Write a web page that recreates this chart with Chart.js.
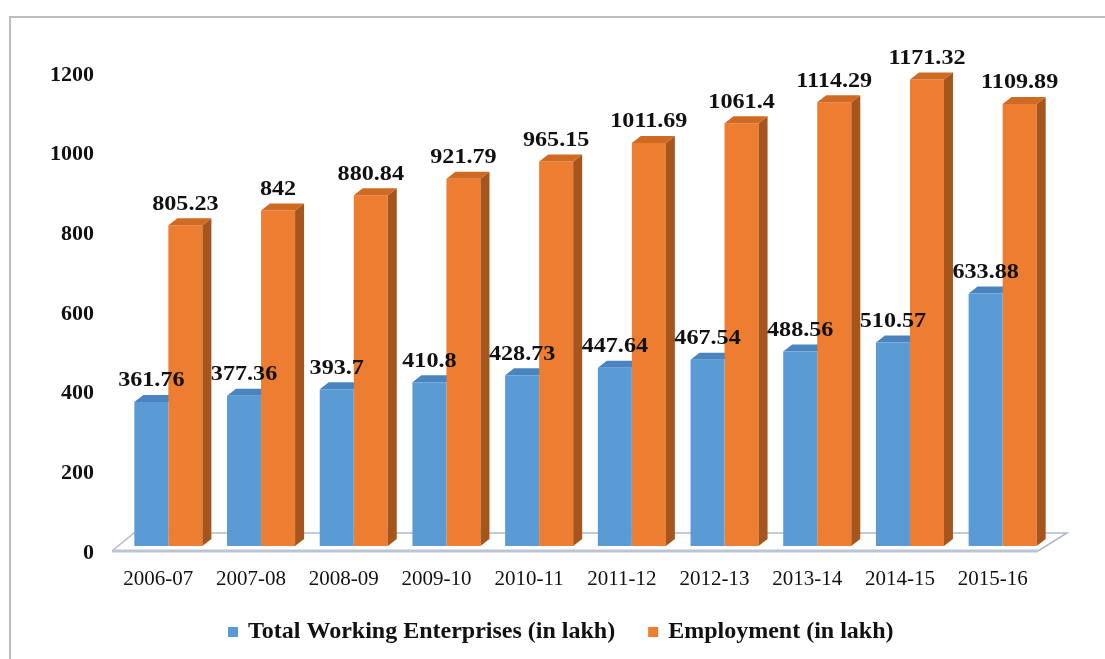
<!DOCTYPE html>
<html lang="en">
<head>
<meta charset="UTF-8" />
<meta name="viewport" content="width=device-width, initial-scale=1.0"/>
<title>Working Enterprises and Employment</title>
<script src="https://cdn.jsdelivr.net/npm/chart.js"></script>
<style>
  body { margin: 0; background: #fff; }
  #wrap { position: relative; width: 1105px; height: 659px; }
</style>
</head>
<body>
<div id="wrap"><canvas id="chart"></canvas></div>

<script>
const years = ['2006-07', '2007-08', '2008-09', '2009-10', '2010-11',
               '2011-12', '2012-13', '2013-14', '2014-15', '2015-16'];
const enterprises = [361.76, 377.36, 393.7, 410.8, 428.73, 447.64, 467.54, 488.56, 510.57, 633.88];
const employment = [805.23, 842, 880.84, 921.79, 965.15, 1011.69, 1061.4, 1114.29, 1171.32, 1109.89];
const seriesNames = ['Total Working Enterprises (in lakh)', 'Employment (in lakh)'];
const yMax = 1200;
const yStep = 200;

const BLUE = '#5B9BD5', BLUE_TOP = '#4A84BE';
const ORANGE = '#ED7D31', ORANGE_TOP = '#CF6A22', ORANGE_SIDE = '#A6561C';
const SERIF = "'Liberation Serif', 'Times New Roman', serif";

// depth of each bar, in pixels
const DX = 9, DY = -7;

function poly(ctx, pts, fill) {
  ctx.beginPath();
  ctx.moveTo(pts[0][0], pts[0][1]);
  for (let i = 1; i < pts.length; i++) ctx.lineTo(pts[i][0], pts[i][1]);
  ctx.closePath();
  ctx.fillStyle = fill;
  ctx.fill();
}

function topFace(ctx, bar, fill) {
  const l = bar.x - bar.width / 2, r = bar.x + bar.width / 2, t = bar.y;
  poly(ctx, [[l, t], [l + DX, t + DY], [r + DX, t + DY], [r, t]], fill);
}

function sideFace(ctx, bar, fill) {
  const r = bar.x + bar.width / 2, t = bar.y, b = bar.base;
  poly(ctx, [[r, t], [r + DX, t + DY], [r + DX, b + DY], [r, b]], fill);
}

const box3d = {
  id: 'box3d',
  beforeDraw(chart) {
    // outer frame
    const ctx = chart.ctx;
    ctx.save();
    ctx.strokeStyle = '#BDBDBD';
    ctx.lineWidth = 2;
    ctx.beginPath();
    ctx.moveTo(10, chart.height);
    ctx.lineTo(10, 17);
    ctx.lineTo(chart.width, 17);
    ctx.stroke();
    ctx.restore();
  },
  beforeDatasetsDraw(chart) {
    const ctx = chart.ctx;
    const a = chart.chartArea;
    ctx.save();
    // floor slab
    const fy = a.bottom + 5, by = a.bottom - 13;
    const fl = a.left - 10, fr = a.right - 11, bl = a.left + 12, br = a.right + 18;
    poly(ctx, [[fl, fy], [bl, by], [br, by], [fr, fy]], '#FFFFFF');
    ctx.strokeStyle = '#AFBACB';
    ctx.lineWidth = 1.5;
    ctx.beginPath();
    ctx.moveTo(fl, fy);
    ctx.lineTo(bl, by);
    ctx.lineTo(br, by);
    ctx.lineTo(fr, fy);
    ctx.stroke();
    ctx.strokeStyle = '#B9C4D5';
    ctx.lineWidth = 3;
    ctx.beginPath();
    ctx.moveTo(fl, fy);
    ctx.lineTo(fr, fy);
    ctx.stroke();
    // tops of the front series sit behind the taller bars
    chart.getDatasetMeta(0).data.forEach(bar => topFace(ctx, bar, BLUE_TOP));
    ctx.restore();
  },
  afterDatasetsDraw(chart) {
    const ctx = chart.ctx;
    ctx.save();
    chart.getDatasetMeta(1).data.forEach(bar => {
      sideFace(ctx, bar, ORANGE_SIDE);
      topFace(ctx, bar, ORANGE_TOP);
    });
    // value labels
    ctx.fillStyle = '#111';
    ctx.font = 'bold 21px ' + SERIF;
    ctx.textAlign = 'center';
    ctx.textBaseline = 'middle';
    chart.data.datasets.forEach((ds, di) => {
      chart.getDatasetMeta(di).data.forEach((bar, i) => {
        ctx.save();
        ctx.translate(bar.x, bar.y - 21);
        ctx.scale(1.15, 1);
        ctx.fillText(String(ds.data[i]), 0, 0);
        ctx.restore();
      });
    });
    ctx.restore();
  },
  afterDraw(chart) {
    // legend row under the axis
    const ctx = chart.ctx;
    ctx.save();
    ctx.font = 'bold 24px ' + SERIF;
    ctx.textBaseline = 'middle';
    ctx.textAlign = 'left';
    let x = 228;
    const y = 632;
    chart.data.datasets.forEach(ds => {
      ctx.fillStyle = ds.backgroundColor;
      ctx.fillRect(x, y - 5, 10, 10);
      x += 20;
      ctx.fillStyle = '#111';
      ctx.fillText(ds.label, x, y);
      x += ctx.measureText(ds.label).width + 33;
    });
    ctx.restore();
  }
};

const ctx = document.getElementById('chart').getContext('2d');
new Chart(ctx, {
  type: 'bar',
  data: {
    labels: years,
    datasets: [
      { label: seriesNames[0], data: enterprises, backgroundColor: BLUE, borderWidth: 0 },
      { label: seriesNames[1], data: employment, backgroundColor: ORANGE, borderWidth: 0 }
    ]
  },
  options: {
    responsive: true,
    maintainAspectRatio: false,
    animation: false,
    datasets: { bar: { categoryPercentage: 0.734, barPercentage: 1.0 } },
    layout: { padding: { top: 68, right: 56, left: 0, bottom: 0 } },
    scales: {
      x: {
        grid: { display: false, drawTicks: false },
        border: { display: false },
        ticks: {
          color: '#111',
          font: { family: SERIF, size: 21 },
          padding: 21,
          labelOffset: -10,
          maxRotation: 0
        },
        afterFit(scale) { scale.height = 113; }
      },
      y: {
        min: 0,
        max: yMax,
        grid: { display: false, drawTicks: false },
        border: { display: false },
        ticks: {
          stepSize: yStep,
          color: '#111',
          font: { family: SERIF, size: 22, weight: 'bold' },
          padding: 28,
          labelOffset: 7,
          callback: v => String(v)
        },
        afterFit(scale) { scale.width = 122; }
      }
    },
    plugins: {
      legend: { display: false },
      tooltip: { enabled: false }
    }
  },
  plugins: [box3d]
});
</script>
</body>
</html>
